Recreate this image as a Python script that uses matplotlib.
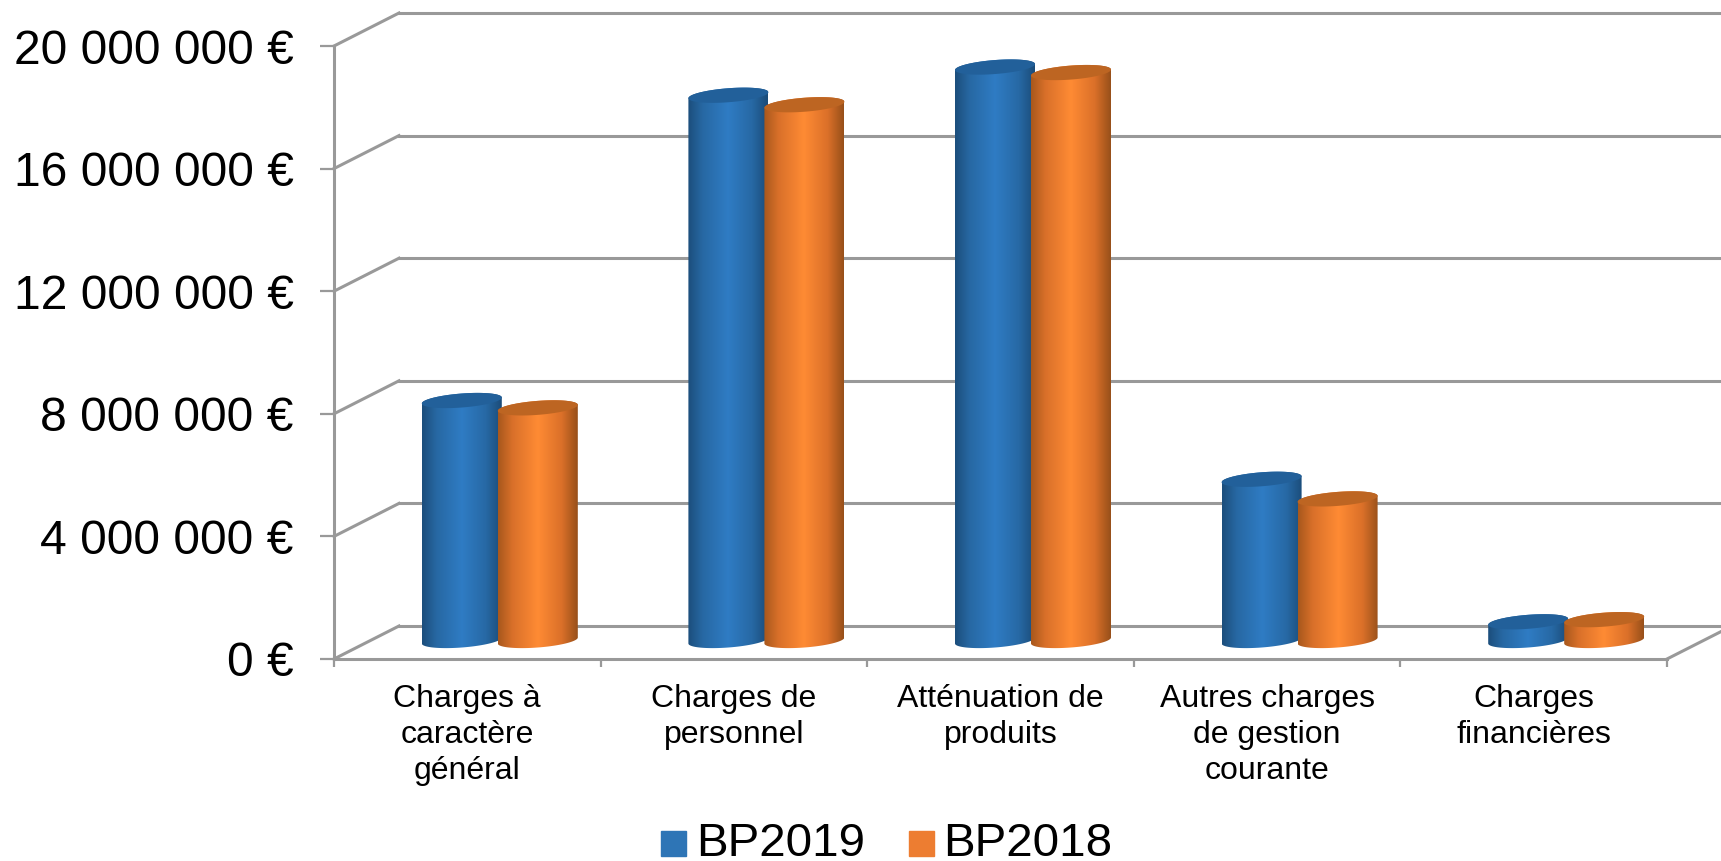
import numpy as np
import matplotlib
matplotlib.use("Agg")
import matplotlib.pyplot as plt
from matplotlib.colors import LinearSegmentedColormap
from matplotlib.patches import Patch, Polygon

plt.rcParams["font.family"] = ["Liberation Sans", "DejaVu Sans"]

categories = ["Charges à\ncaractère\ngénéral", "Charges de\npersonnel",
              "Atténuation de\nproduits", "Autres charges\nde gestion\ncourante",
              "Charges\nfinancières"]
bp2019 = [7830000, 17790000, 18710000, 5260000, 610000]
bp2018 = [7590000, 17480000, 18530000, 4620000, 680000]
yticks = [0, 4000000, 8000000, 12000000, 16000000, 20000000]

W, H = 1721, 861
PX_X = 1 / 266.6      # une catégorie = 266.6 px
PX_Y = 20000000 / 613  # 20 M = 613 px
GREY = "#999999"

# profondeur de la fausse 3D
DX = 65 * PX_X
DY = 33 * PX_Y
BASE = 18.5 * PX_Y
BAR_W = 80 * PX_X
ELL_B = 7 * PX_Y
ELL_S = 3 * PX_Y

blue_cm = LinearSegmentedColormap.from_list("b", [(0, "#1C4E7C"), (0.18, "#2768A3"), (0.5, "#2F7CC4"),
                                                  (0.8, "#2769A5"), (1, "#1B4C79")])
orange_cm = LinearSegmentedColormap.from_list("o", [(0, "#A8581C"), (0.18, "#D9702A"), (0.5, "#FF8B34"),
                                                    (0.8, "#DB7029"), (1, "#98501A")])


def cylinder(ax, cx, val, cmap, top_col):
    t = np.linspace(0, np.pi, 60)
    a = BAR_W / 2
    # contour : moitié basse de la base puis moitié haute du sommet
    xb = cx - a * np.cos(t)
    yb = BASE - ELL_B * np.sin(t) - ELL_S * np.cos(t)
    xt = cx + a * np.cos(t)
    yt = BASE + val + ELL_B * np.sin(t) + ELL_S * np.cos(t)
    body = Polygon(np.c_[np.r_[xb, xt], np.r_[yb, yt]], closed=True, transform=ax.transData,
                   fc="none", ec="none")
    ax.add_patch(body)
    im = ax.imshow(np.linspace(0, 1, 128)[None, :], cmap=cmap, aspect="auto", zorder=3,
                   extent=(cx - a, cx + a, 0, BASE + val + 2 * ELL_B + ELL_S), clip_on=True)
    im.set_clip_path(body)
    tt = np.linspace(0, 2 * np.pi, 120)
    ax.fill(cx + a * np.cos(tt), BASE + val + ELL_B * np.sin(tt) + ELL_S * np.cos(tt),
            color=top_col, lw=0, zorder=3)


fig = plt.figure(figsize=(W / 100, H / 100), dpi=100)
ax = fig.add_axes([334 / W, (H - 659) / H, 1333 / W, 613 / H])

# murs du fond
for v in yticks:
    ax.plot([DX, 5 + DX], [v + DY, v + DY], color=GREY, lw=2.2, clip_on=False, zorder=1)
    ax.plot([0, DX], [v, v + DY], color=GREY, lw=2.2, clip_on=False, zorder=1)
ax.plot([5, 5 + DX], [0, DY], color=GREY, lw=2.2, clip_on=False, zorder=1)

for i in range(len(categories)):
    c = i + 0.5 + DX / 2
    cylinder(ax, c - 38 * PX_X, bp2019[i], blue_cm, "#22609A")
    cylinder(ax, c + 38 * PX_X, bp2018[i], orange_cm, "#BD6522")

ax.set_xlim(0, 5)
ax.set_ylim(0, 20000000)
for s in ["top", "right"]:
    ax.spines[s].set_visible(False)
for s in ["left", "bottom"]:
    ax.spines[s].set_color(GREY)
    ax.spines[s].set_linewidth(2.2)
ax.patch.set_visible(False)

ax.set_yticks(yticks)
ax.set_yticklabels([f"{v:,}".replace(",", " ") + " €" for v in yticks], fontsize=34.6)
ax.tick_params(axis="y", length=10, width=1.6, color=GREY, pad=19)
ax.set_xticks(range(6))
ax.set_xticklabels([])
ax.tick_params(axis="x", which="major", length=6, width=1.6, color=GREY)
ax.set_xticks(np.arange(len(categories)) + 0.5, minor=True)
ax.set_xticklabels(categories, minor=True, fontsize=23, linespacing=1.27)
ax.tick_params(axis="x", which="minor", length=0, pad=18)

handles = [Patch(color="#2E75B6", label="BP2019"), Patch(color="#ED7D31", label="BP2018")]
leg = fig.legend(handles=handles, ncol=2, fontsize=34.2, frameon=False, loc="lower left",
                 bbox_to_anchor=(661 / W, -5 / H), borderpad=0, borderaxespad=0, handlelength=0.53,
                 handleheight=0.53, handletextpad=0.2, columnspacing=0.93)
for p in leg.get_patches():
    p.set_y(0)
    p.set_height(18)

fig.savefig("out.png", dpi=100)
